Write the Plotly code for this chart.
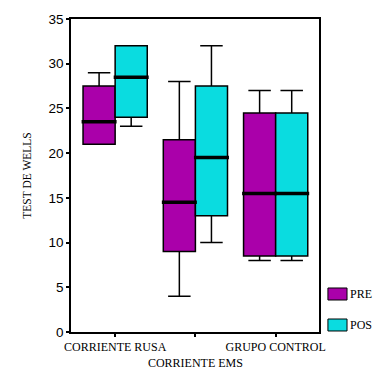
import plotly.graph_objects as go

categories = ["CORRIENTE RUSA", "CORRIENTE EMS", "GRUPO CONTROL"]
tick_labels = ["CORRIENTE RUSA", "<br>CORRIENTE EMS", "GRUPO CONTROL"]
series_names = ["PRE", "POS"]

pre_min = [21, 4, 8]
pre_q1 = [21, 9, 8.5]
pre_median = [23.5, 14.5, 15.5]
pre_q3 = [27.5, 21.5, 24.5]
pre_max = [29, 28, 27]

pos_min = [23, 10, 8]
pos_q1 = [24, 13, 8.5]
pos_median = [28.5, 19.5, 15.5]
pos_q3 = [32, 27.5, 24.5]
pos_max = [32, 32, 27]

colors = ["#AA00AA", "#0ADCE0"]
offsets = [-0.2, 0.2]
series = [
    (pre_min, pre_q1, pre_median, pre_q3, pre_max),
    (pos_min, pos_q1, pos_median, pos_q3, pos_max),
]

fig = go.Figure()
for name, color, off, (mn, q1, med, q3, mx) in zip(series_names, colors, offsets, series):
    xs = [i + off for i in range(len(categories))]
    fig.add_trace(go.Box(
        x=xs, q1=q1, median=med, q3=q3, lowerfence=mn, upperfence=mx,
        name=name, width=0.4, whiskerwidth=0.7, boxpoints=False,
        fillcolor=color, line=dict(color="black", width=1.5),
        showlegend=False, hoverinfo="skip",
    ))
for name, off, (mn, q1, med, q3, mx) in zip(series_names, offsets, series):
    xs = [i + off for i in range(len(categories))]
    fig.add_trace(go.Scatter(
        x=xs, y=med, mode="markers", showlegend=False, hoverinfo="skip",
        marker=dict(symbol="line-ew", size=25, line=dict(color="black", width=3.5)),
    ))

# custom legend
leg_y = [(0.1022, 0.1406), (0.0032, 0.0415)]
for name, color, (y0, y1) in zip(series_names, colors, leg_y):
    fig.add_shape(type="rect", xref="paper", yref="paper", x0=1.036, x1=1.113,
                  y0=y0, y1=y1, fillcolor=color, line=dict(color="black", width=1))
    fig.add_annotation(xref="paper", yref="paper", x=1.118, y=(y0 + y1) / 2,
                       text=name, showarrow=False, xanchor="left", yanchor="middle",
                       font=dict(family="Liberation Serif", size=12, color="black"))

fig.update_layout(
    width=383, height=389,
    margin=dict(l=71, r=64, t=19, b=57),
    paper_bgcolor="white", plot_bgcolor="white",
    boxmode="overlay",
    font=dict(family="Liberation Serif", size=11, color="black"),
    xaxis=dict(
        range=[-0.55, 2.54], tickmode="array", tickvals=[0, 1, 2], ticktext=tick_labels,
        showgrid=False, zeroline=False, showline=True, linecolor="black", linewidth=1.5,
        mirror=True, ticks="outside", ticklen=3, tickwidth=2, tickcolor="black",
        tickfont=dict(family="Liberation Serif", size=12, color="black"),
        title=dict(text=""), tickangle=0, automargin=False,
    ),
    yaxis=dict(
        range=[0, 35], tickvals=[0, 5, 10, 15, 20, 25, 30, 35],
        showgrid=False, zeroline=False, showline=True, linecolor="black", linewidth=1.5,
        mirror=True, ticks="outside", ticklen=3, tickwidth=2, tickcolor="black",
        tickfont=dict(family="Liberation Sans", size=13.5, color="black"),
        automargin=False,
        title=dict(text="TEST DE WELLS", standoff=14,
                   font=dict(family="Liberation Serif", size=11.5, color="black")),
    ),
)

fig.write_html("out.html", config={"displayModeBar": False},
               post_script="document.body.style.margin='0px';")
